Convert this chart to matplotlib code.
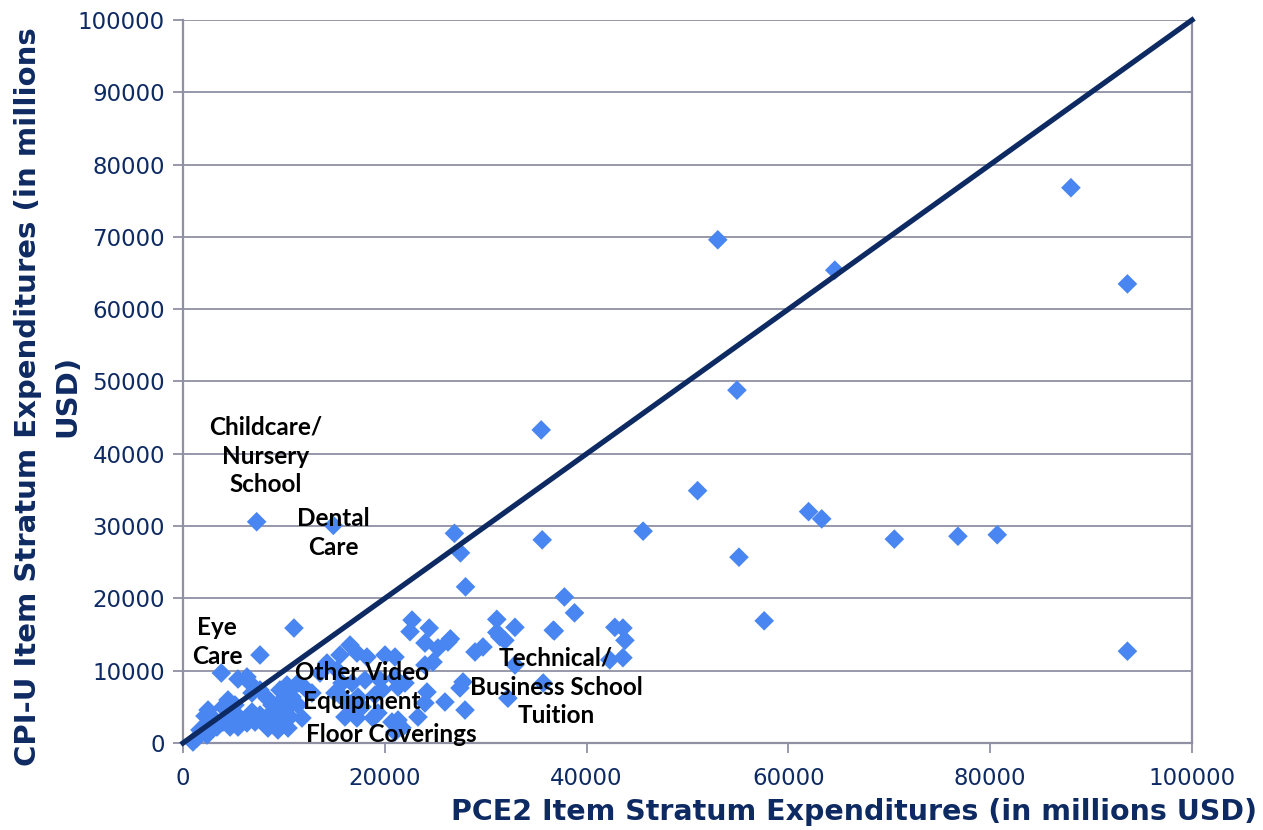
import matplotlib
matplotlib.use("Agg")
import matplotlib.pyplot as plt
import numpy as np

# PCE2 item stratum expenditures (x) and CPI-U item stratum expenditures (y), millions USD
pce = [88000, 93600, 53000, 64600, 54900, 35500, 51000, 62000, 63300, 45600,
       35600, 55100, 70500, 76800, 80700, 57600, 93600, 7300, 14900, 26900,
       27500, 28000, 37800, 38800, 36800,
       22700, 22500, 24400, 26500, 31100, 32900, 31100, 31900, 31400, 36700,
       42800, 43600, 43800, 32900, 43600, 42300, 35700, 32200, 21700,
       23980, 25270, 26260, 28940, 29730, 24780, 23980, 27750, 27450, 22000,
       21310, 24180, 23980, 25960, 27950, 23290, 21310,
       11000, 16550, 15560, 14270, 17240, 18230, 20020, 21010, 13580, 15260,
       11400, 10600, 12090, 12780, 10800, 15760, 16750, 18040, 19520, 21010,
       15060, 15860, 17340, 19030, 19720, 10410, 11400, 10600, 11790, 16550,
       17740, 16050, 17240, 18830, 19320, 20710, 21210, 10410, 21010,
       7630, 3800, 5450, 6340, 6640, 9610, 10300, 7630, 6840, 4460,
       5150, 3960, 2480, 2180, 2970, 8320, 8820, 9610, 9120, 6840,
       7630, 8320, 7140, 6340, 5650, 4660, 3960, 3370, 4660, 5450,
       8620, 9610, 8420, 1680, 2380, 2680, 1390, 990, 9410]
cpi = [76800, 63500, 69600, 65400, 48800, 43300, 34900, 32000, 31000, 29300,
       28100, 25700, 28200, 28600, 28800, 16900, 12700, 30600, 30100, 29000,
       26300, 21600, 20200, 18000, 15500,
       17000, 15400, 15900, 14400, 17100, 16000, 15300, 14200, 14700, 15600,
       16000, 15900, 14200, 10800, 11800, 11500, 8300, 6200, 2100,
       13830, 13140, 13970, 12590, 13280, 11200, 10790, 8440, 7610, 8300,
       7740, 7050, 5530, 5670, 4560, 3600, 3180,
       15900, 13550, 12170, 11060, 12450, 11890, 12170, 11890, 9680, 10100,
       8300, 7330, 7610, 6920, 6360, 8300, 8300, 8710, 8710, 8990,
       6920, 6220, 6360, 6640, 7330, 4980, 5260, 3600, 3460, 4980,
       4980, 3600, 3460, 3460, 4150, 2900, 2900, 2070, 1520,
       12170, 9680, 8850, 9130, 8300, 7330, 8020, 7330, 6920, 5950,
       5260, 4980, 4560, 3730, 3460, 6220, 5260, 5670, 4560, 4290,
       3870, 3600, 2900, 2770, 3460, 3600, 2900, 2210, 2210, 2210,
       2900, 3600, 2070, 1800, 1110, 1800, 690, 140, 1800]

ticks_x = [0, 20000, 40000, 60000, 80000, 100000]
ticks_y = [0, 10000, 20000, 30000, 40000, 50000, 60000, 70000, 80000, 90000, 100000]

labels = ["Childcare/\nNursery\nSchool", "Dental\nCare", "Eye\nCare",
          "Other Video\nEquipment", "Floor Coverings",
          "Technical/\nBusiness School\nTuition"]
label_pos = [(8230, 39690), (14870, 29040), (3370, 13970),
             (17740, 7740), (20610, 1110), (36960, 7740)]

navy = "#0E2A62"
grid_c = "#8F90A3"

fig = plt.figure(figsize=(12.63, 8.30), dpi=100)
ax = fig.add_axes([183/1263, 87/830, (1192-183)/1263, (743-20)/830])

ax.set_xlim(0, 100000)
ax.set_ylim(0, 100000)
ax.set_xticks(ticks_x)
ax.set_yticks(ticks_y)
ax.yaxis.grid(True, color=grid_c, linewidth=1.3)
ax.set_axisbelow(True)
for s in ["left", "bottom", "right"]:
    ax.spines[s].set_color(grid_c)
    ax.spines[s].set_linewidth(1.6)
ax.spines["top"].set_visible(False)
ax.tick_params(axis="both", direction="out", length=7, width=1.3, color=grid_c,
               labelcolor=navy, labelsize=16.5, pad=6)
ax.tick_params(axis="x", pad=10)

ax.scatter(pce, cpi, marker="D", s=100, color="#4A86F2", edgecolors="none", zorder=3, clip_on=False)
ax.plot([0, 100000], [0, 100000], color=navy, linewidth=3.8, zorder=4, clip_on=False)

for t, (lx, ly) in zip(labels, label_pos):
    ax.text(lx, ly, t, ha="center", va="center", fontsize=17.5, fontweight="bold",
            family=["Lato", "DejaVu Sans"], color="black", linespacing=1.3, zorder=5)

fig.text(1257/1263, 1 - 812/830, "PCE2 Item Stratum Expenditures (in millions USD)",
         ha="right", va="center", fontsize=20.5, fontweight="bold", color=navy)
fig.text(28/1263, 1 - 397/830, "CPI-U Item Stratum Expenditures (in millions",
         ha="center", va="center", rotation=90, fontsize=21, fontweight="bold", color=navy)
fig.text(67/1263, 1 - 396/830, "USD)",
         ha="center", va="center", rotation=90, fontsize=21, fontweight="bold", color=navy)

fig.savefig("out.png", dpi=100)
